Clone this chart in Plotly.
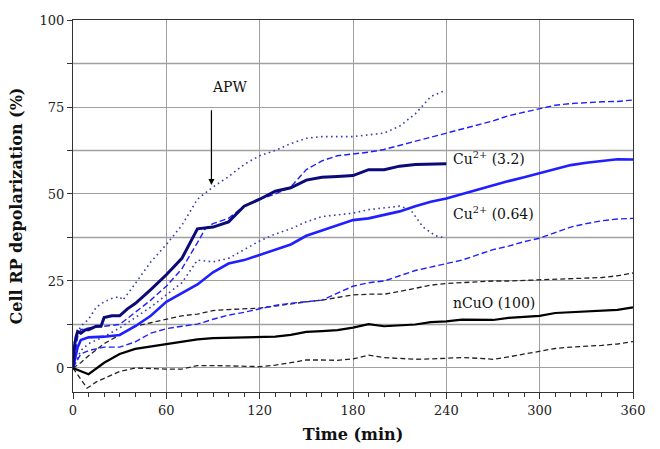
import plotly.graph_objects as go

# ---------------- data ----------------
# Cu2+ (3.2) mean and bounds
cu32_t = [0, 1, 2, 3, 5, 8, 10, 15, 18, 20, 25, 30, 35, 40, 50, 60, 70, 80, 90, 100,
          110, 120, 130, 140, 150, 160, 170, 180, 190, 200, 210, 220, 240]
cu32_mean = [0, 6.5, 9, 10.5, 10, 11, 11, 12, 12, 14.5, 15, 15, 17, 18.5, 22.5, 26.8, 31.5, 40, 40.5, 42,
             46.5, 48.5, 50.8, 51.8, 54, 54.8, 55, 55.3, 57, 57, 58, 58.5, 58.7]

cu32_up_t = [0, 1, 5, 10, 15, 20, 25, 30, 32, 38, 50, 60, 70, 80, 90, 100, 110, 120, 130, 140,
             150, 160, 180, 190, 200, 210, 220, 230, 238]
cu32_up = [0, 8, 12, 14, 17.5, 19, 20, 20.5, 19.5, 23, 30.5, 35.5, 41, 48.5, 52, 55, 58.5, 61, 62.5, 64.5,
           66, 66.5, 66.5, 67, 67.5, 69.5, 73, 78, 79.5]

cu32_lo_t = [0, 5, 10, 20, 30, 40, 50, 60, 70, 80, 90, 100, 110, 120, 130, 140, 150, 160, 180, 190,
             210, 217, 225, 233, 238]
cu32_lo = [0, 5, 7, 9, 11.5, 14.5, 17.5, 21, 24.5, 31, 30.5, 31.5, 34, 36.5, 38.5, 40, 42, 43.5, 44.5, 45.5,
           46.5, 45.5, 40.5, 38, 37.5]

# Cu2+ (0.64)
t10 = [0, 10, 20, 30, 40, 50, 60, 70, 80, 90, 100, 110, 120, 130, 140, 150, 160, 170, 180,
       190, 200, 210, 220, 230, 240, 250, 260, 270, 280, 290, 300, 310, 320, 330, 340, 350, 360]
cu064_t = [0, 3, 5] + t10[1:]
cu064_mean = [0, 6, 8, 8.8, 9, 9.5, 12, 15, 19, 21.5, 24, 27.5, 30, 31, 32.5, 34, 35.5, 38, 39.5, 41, 42.5,
              43, 44, 45, 46.5, 47.8, 48.7, 50, 51.3, 52.5, 53.7, 54.8, 56, 57.3, 58.3, 59, 59.5, 60, 59.9]
cu064_up_t = [0, 3, 5, 10, 20, 30, 40, 50, 60, 70, 80, 85, 90] + t10[10:]
cu064_up = [0, 9, 11, 11.5, 12, 12.5, 16, 19.5, 23.5, 28.5, 36, 40, 41.5, 43, 46.5, 48.5, 50, 52, 57, 59.5,
            61, 61.5, 62, 62.8, 64, 65, 66.3, 67.6, 68.8, 70, 71, 72.5, 73.5, 74.6, 75.5, 76, 76.3,
            76.5, 76.6, 77]
cu064_lo_t = [0, 5] + t10[1:]
cu064_lo = [0, 4, 5, 6, 6, 7.5, 10, 11.3, 12, 12.6, 14, 15.2, 16, 17, 18, 18.6, 19, 19.5, 21.5, 23.5,
            24.5, 25, 26.5, 28, 29, 30, 31, 32.5, 34, 35, 36.3, 37.3, 39, 40.5, 41.5, 42.3, 42.8, 43]

# nCuO (100)
ncuo_mean = [0, -1.8, 1.5, 4, 5.5, 6.2, 7, 7.6, 8.2, 8.6, 8.7, 8.7, 8.7, 9, 9.5, 10.4, 10.6, 10.9, 11.6,
             12.6, 12, 12.2, 12.5, 13.2, 13.4, 13.9, 13.9, 13.8, 14.4, 14.8, 15, 15.8, 16, 16.2, 16.3,
             16.7, 17.4]
ncuo_up_t = [0, 5] + t10[1:]
ncuo_up = [0, 1.5, 3.5, 7, 9.5, 12, 13, 14, 15, 15.5, 16.5, 16.8, 17, 17.2, 17.8, 18.5, 19, 19.5, 20.3,
           21, 21.2, 21.2, 22, 23, 23.8, 24.3, 24.6, 24.8, 25, 25, 25.2, 25.3, 25.4, 25.6, 25.8, 26,
           26.5, 27.3]
ncuo_lo_t = [0, 9, 15] + t10[2:]
ncuo_lo = [0, -5.8, -4, -3, -1, 0, -0.2, -0.3, -0.3, 0.7, 0.7, 0.6, 0.5, 0.4, 0.8, 1.5, 2.3, 2.3, 2.2,
           2.6, 3.7, 3, 2.7, 2.5, 2.6, 2.8, 3, 2.8, 2.5, 3.2, 4, 4.7, 5.6, 6, 6.2, 6.5, 6.9, 7.6]

x_ticks = [0, 60, 120, 180, 240, 300, 360]
y_ticks = [0, 25, 50, 75, 100]
y_minor_grid = [12.5, 37.5, 62.5, 87.5]

labels = ["Cu<sup>2+</sup> (3.2)", "Cu<sup>2+</sup> (0.64)", "nCuO (100)"]

# ---------------- figure ----------------
NAVY = "#0a0a78"
BLUE = "#1f1fff"
DOTC = "#3a3ab8"
FONT = "DejaVu Serif"
GRID = "#a0a0a0"

fig = go.Figure()

def add(x, y, color, width, dash="solid"):
    fig.add_trace(go.Scatter(x=x, y=y, mode="lines", showlegend=False,
                             line=dict(color=color, width=width, dash=dash)))

# intermediate horizontal gridlines drawn as a faint trace layer (y = grid levels across the x-range)
for gv in y_minor_grid:
    fig.add_trace(go.Scatter(x=[x_ticks[0], x_ticks[-1]], y=[gv, gv], mode="lines", showlegend=False,
                             hoverinfo="skip", line=dict(color=GRID, width=1.5)))

add(ncuo_up_t, ncuo_up, "#222222", 1.3, "5px,3px")
add(ncuo_lo_t, ncuo_lo, "#222222", 1.3, "5px,3px")
add(cu064_up_t, cu064_up, BLUE, 1.4, "6px,3px")
add(cu064_lo_t, cu064_lo, BLUE, 1.4, "6px,3px")
add(cu32_up_t, cu32_up, DOTC, 1.6, "1.6px,3.4px")
add(cu32_lo_t, cu32_lo, DOTC, 1.6, "1.6px,3.4px")
add(t10, ncuo_mean, "#000000", 2.2)
add(cu064_t, cu064_mean, BLUE, 2.6)
add(cu32_t, cu32_mean, NAVY, 3.0)

# labels
label_pos = [(243, 60.3), (243, 44.5), (243, 18.7)]
for txt, (lx, ly) in zip(labels, label_pos):
    fig.add_annotation(x=lx, y=ly, text=txt, showarrow=False, xanchor="left", yanchor="middle",
                       font=dict(family=FONT, size=14, color="#111111"))

# APW arrow
fig.add_annotation(x=89, y=52.6, ax=89, ay=74.5, axref="x", ayref="y", xref="x", yref="y",
                   text="", showarrow=True, arrowhead=2, arrowsize=1, arrowwidth=1.2,
                   arrowcolor="#000000")
fig.add_annotation(x=88, y=80.7, text="APW", showarrow=False, xanchor="left", yanchor="middle",
                   font=dict(family=FONT, size=14, color="#111111"))

fig.update_layout(
    width=660, height=449,
    margin=dict(l=73, r=27, t=20, b=57),
    paper_bgcolor="white", plot_bgcolor="white",
    font=dict(family=FONT, size=13, color="#222222"),
)
fig.update_xaxes(
    range=[0, 360], tickvals=x_ticks, ticktext=[str(v) for v in x_ticks],
    automargin=False,
    showgrid=True, gridcolor=GRID, gridwidth=1,
    showline=True, linecolor="#333333", linewidth=1, mirror=True,
    ticks="outside", ticklen=6, tickcolor="#333333",
    minor=dict(dtick=10, ticks="outside", ticklen=4, tickcolor="#333333", showgrid=False),
    zeroline=False,
    title=dict(text="<b>Time (min)</b>", font=dict(family=FONT, size=16, color="#111111"), standoff=12),
    tickfont=dict(family=FONT, size=13),
)
fig.update_yaxes(
    range=[-6.9, 100], tickvals=y_ticks, ticktext=[str(v) for v in y_ticks],
    automargin=False,
    showgrid=True, gridcolor=GRID, gridwidth=1,
    showline=True, linecolor="#333333", linewidth=1, mirror=True,
    ticks="outside", ticklen=5, tickcolor="#333333",
    minor=dict(dtick=12.5, tick0=0, ticks="outside", ticklen=5, tickcolor="#333333", showgrid=False),
    zeroline=False,
    title=dict(text="<b>Cell RP depolarization (%)</b>", font=dict(family=FONT, size=16, color="#111111"), standoff=12),
    tickfont=dict(family=FONT, size=13),
)

fig.write_html("out.html", post_script="document.body.style.margin='0';",
               config={"displayModeBar": False})
